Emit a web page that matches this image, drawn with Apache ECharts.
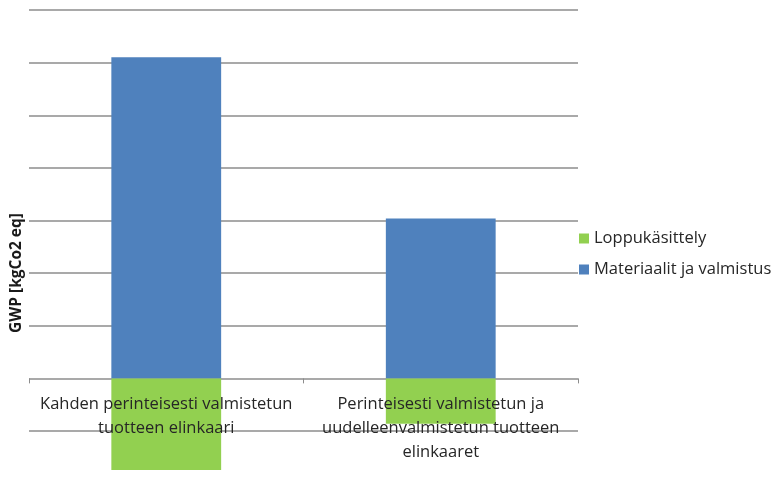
<!DOCTYPE html>
<html>
<head>
<meta charset="utf-8">
<script src="https://cdn.jsdelivr.net/npm/echarts@6/dist/echarts.min.js"></script>
<style>html,body{margin:0;padding:0;background:#fff}#c{width:775px;height:481px}</style>
</head>
<body>
<div id="c"></div>
<script>
var categories = ['Kahden perinteisesti valmistetun\ntuotteen elinkaari', 'Perinteisesti valmistetun ja\nuudelleenvalmistetun tuotteen\nelinkaaret'];
var materiaalit = [6.1, 3.04];
var loppukasittely = [-1.74, -0.86];
var yAxisTitle = 'GWP [kgCo2 eq]';
var seriesNames = ['Loppukäsittely', 'Materiaalit ja valmistus'];

var chart = echarts.init(document.getElementById('c'), null, {renderer: 'canvas'});
chart.setOption({
  animation: false,
  backgroundColor: '#fff',
  textStyle: {fontFamily: 'Open Sans'},
  grid: {left: 29, right: 197, top: 10, bottom: 50, containLabel: false, outerBoundsMode: 'none'},
  legend: {
    orient: 'vertical',
    left: 574, top: 225,
    itemWidth: 10, itemHeight: 10, itemGap: 14,
    icon: 'rect',
    data: seriesNames,
    textStyle: {fontSize: 16.5, color: '#262626', fontFamily: 'Open Sans'}
  },
  graphic: [{
    type: 'text', x: 17, y: 273, rotation: Math.PI / 2,
    style: {text: yAxisTitle, fill: '#1a1a1a', font: 'bold 15.5px "Open Sans"', textAlign: 'center', textVerticalAlign: 'middle'}
  }],
  xAxis: [{
    type: 'category',
    data: categories,
    position: 'bottom',
    z: 1,
    axisLine: {show: true, onZero: true, lineStyle: {color: 'rgba(0,0,0,0)', width: 0}},
    axisTick: {show: true, length: 5, lineStyle: {color: '#8c8c8c'}},
    axisLabel: {show: false},
    splitLine: {show: false}
  }, {
    type: 'category',
    data: categories,
    position: 'bottom',
    z: 3,
    axisLine: {show: false, onZero: false},
    axisTick: {show: false},
    axisLabel: {fontSize: 16.5, color: '#262626', lineHeight: 24, margin: -39, interval: 0, fontFamily: 'Open Sans'},
    splitLine: {show: false}
  }],
  yAxis: {
    type: 'value', min: -1, max: 7, interval: 1,
    axisLabel: {show: false}, axisLine: {show: false}, axisTick: {show: false},
    splitLine: {lineStyle: {color: '#8c8c8c', width: 1.5}}
  },
  series: [
    {name: seriesNames[1], type: 'bar', stack: 'a', data: materiaalit, barWidth: '40%', clip: false, itemStyle: {color: '#4F81BD'}},
    {name: seriesNames[0], type: 'bar', stack: 'a', data: loppukasittely, barWidth: '40%', clip: false, itemStyle: {color: '#92D050'}}
  ]
});
</script>
</body>
</html>
